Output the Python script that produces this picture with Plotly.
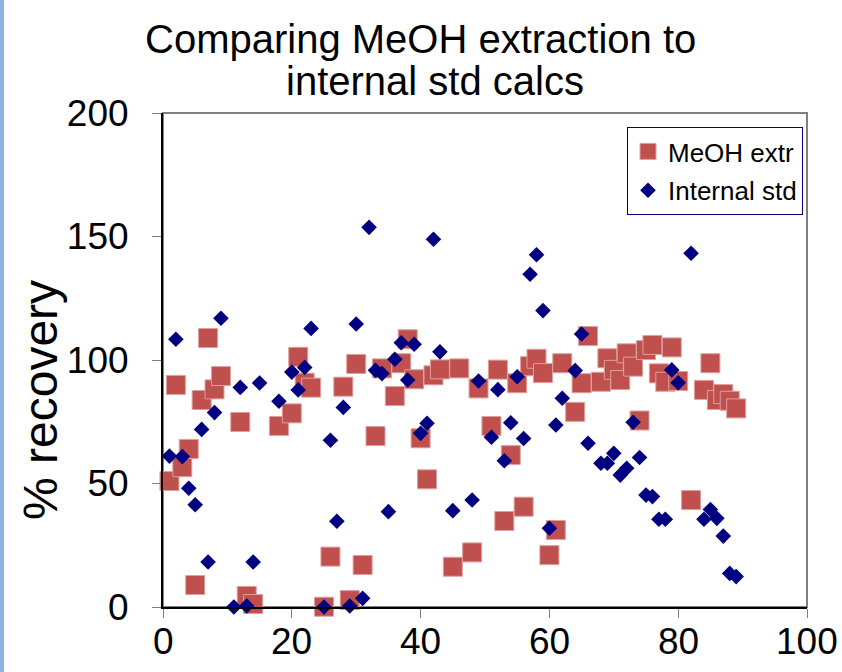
import plotly.graph_objects as go

# MeOH extraction (% recovery)
meoh_x = [1, 2, 3, 4, 5, 6, 7, 8, 9, 12, 13, 14, 18, 20, 21, 22, 23, 25, 26, 28,
          29, 30, 31, 33, 34, 36, 37, 38, 39, 40, 41, 42, 43, 45, 46, 48, 49, 51, 52, 53,
          54, 55, 56, 57, 58, 59, 60, 61, 62, 64, 65, 66, 68, 69, 70, 71, 72, 73, 74, 75,
          76, 77, 78, 79, 80, 82, 84, 85, 86, 87, 88, 89]
meoh_y = [51, 89.9, 56.6, 64, 8.9, 83.8, 108.9, 88.1, 93.5, 74.9, 4.5, 1.2, 73.3, 78.4, 101.3, 90.8, 88.8, 0.1, 20.4, 89.2,
          2.8, 98.4, 17, 69.2, 96.6, 85.4, 98.7, 108.4, 92.2, 68.3, 51.7, 93.8, 96.2, 16.3, 96.6, 22.1, 88.5, 73.3, 96.1, 34.8,
          61.5, 90.6, 40.6, 97.5, 100.5, 94.7, 21, 31.2, 98.7, 79, 90.6, 109.7, 91.2, 100.7, 96, 91.9, 102.7, 97.3, 75.5, 104,
          106.1, 94.6, 91.2, 105.1, 91.5, 43.3, 87.9, 98.7, 83.8, 86.2, 83.5, 80.4]

# Internal std calcs (% recovery)
istd_x = [1, 2, 3, 4, 5, 6, 7, 8, 9, 11, 12, 13, 14, 15, 18, 20, 21, 22, 23, 25,
          26, 27, 28, 29, 30, 31, 32, 33, 34, 35, 36, 37, 38, 39, 40, 41, 42, 43, 45, 48,
          49, 51, 52, 53, 54, 55, 56, 57, 58, 59, 60, 61, 62, 64, 65, 66, 68, 69, 70, 71,
          72, 73, 74, 75, 76, 77, 78, 79, 80, 82, 84, 85, 86, 87, 88, 89]
istd_y = [61.1, 108.4, 60.9, 48.1, 41.4, 71.9, 18.2, 78.7, 116.9, 0, 88.9, 0.4, 18.2, 90.7, 83.3, 95.1, 87.9, 97, 112.8, 0,
          67.5, 34.7, 80.8, 0.4, 114.6, 3.5, 153.7, 95.8, 94.5, 38.6, 100.3, 107, 91.9, 106.4, 70.3, 74.4, 148.9, 103.3, 39, 43.3,
          91.5, 68.7, 88, 59.2, 74.6, 93.2, 68.2, 134.7, 142.6, 120, 31.9, 73.7, 84.5, 95.7, 110.5, 66.3, 58.2, 58.2, 62.2, 53.4,
          56.2, 74.8, 60.5, 45.3, 44.7, 35.5, 35.5, 96, 90.8, 143.2, 35.5, 39.5, 35.9, 28.7, 13.6, 12.3]

x_ticks = [0, 20, 40, 60, 80, 100]
y_ticks = [0, 50, 100, 150, 200]

title_lines = ["Comparing MeOH extraction to", "internal std calcs"]
y_title = "% recovery"

FONT = "Liberation Sans, Arial, sans-serif"

fig = go.Figure()
fig.add_trace(go.Scatter(
    x=meoh_x, y=meoh_y, mode="markers", name="MeOH extr", legendgroup="a",
    marker=dict(symbol="square", size=19, color="#C0504D",
                line=dict(color="#DDA09E", width=1)),
    cliponaxis=False,
))
fig.add_trace(go.Scatter(
    x=istd_x, y=istd_y, mode="markers", name="Internal std", legendgroup="b",
    marker=dict(symbol="diamond", size=12, color="#000080", line=dict(width=0)),
    cliponaxis=False,
))

# x tick labels placed as annotations (closer to the axis, as in the reference)
x_tick_annotations = [
    dict(text=str(v), xref="x", yref="paper", x=v, y=-34/494,
         xanchor="center", yanchor="middle", showarrow=False,
         font=dict(size=37, family=FONT, color="black"))
    for v in x_ticks
]

fig.update_layout(
    width=842, height=672,
    margin=dict(l=163, r=35, t=113, b=65, autoexpand=False),
    paper_bgcolor="white", plot_bgcolor="white",
    font=dict(family=FONT, color="black"),
    showlegend=True,
    legend=dict(
        x=(627-163)/644, y=(607-127)/494, xanchor="left", yanchor="top",
        bgcolor="white", bordercolor="#000080", borderwidth=1,
        font=dict(size=26, family=FONT, color="black"),
        itemsizing="trace",
        tracegroupgap=2,
    ),
    xaxis=dict(
        range=[0, 100], tickvals=x_ticks, showticklabels=False,
        showgrid=False, zeroline=False, showline=True, linecolor="black", linewidth=2,
        ticks="outside", ticklen=9, tickcolor="#808080", tickwidth=1,
        automargin=False,
    ),
    yaxis=dict(
        range=[0, 200], tickvals=y_ticks, ticktext=[str(v) for v in y_ticks],
        showgrid=False, zeroline=False, showline=True, linecolor="black", linewidth=2,
        ticks="outside", ticklen=9, tickcolor="#808080", tickwidth=1,
        tickfont=dict(size=37, family=FONT, color="black"),
        ticklabelstandoff=16,
        automargin=False,
    ),
    shapes=[
        dict(type="rect", xref="paper", yref="paper", x0=0, x1=1, y0=0, y1=1,
             line=dict(color="#808080", width=2), fillcolor="rgba(0,0,0,0)", layer="below"),
        dict(type="rect", xref="paper", yref="paper",
             x0=-163/644, x1=-159/644, y0=-65/494, y1=(672-65)/494,
             line=dict(width=0), fillcolor="#8DB4E2", layer="below"),
    ],
    annotations=x_tick_annotations + [
        dict(text=title_lines[0],
             xref="paper", yref="paper", x=(420-163)/644, y=(607-39)/494,
             xanchor="center", yanchor="middle", showarrow=False,
             font=dict(size=40, family=FONT, color="black")),
        dict(text=title_lines[1],
             xref="paper", yref="paper", x=(435-163)/644, y=(607-81)/494,
             xanchor="center", yanchor="middle", showarrow=False,
             font=dict(size=40, family=FONT, color="black")),
        dict(text=y_title, textangle=-90,
             xref="paper", yref="paper", x=(40-163)/644, y=(607-400)/494,
             xanchor="center", yanchor="middle", showarrow=False,
             font=dict(size=48, family=FONT, color="black")),
    ],
)

fig.write_html("out.html")
